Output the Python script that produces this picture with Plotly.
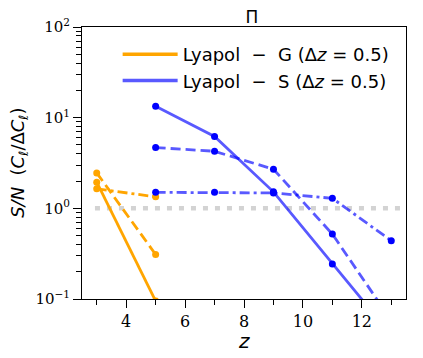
import plotly.graph_objects as go

# redshift bins
z_G = [3, 5]
z_S = [5, 7, 9, 11, 13]

# S/N for the G configuration (solid, dashed, dash-dot)
G_solid = [1.94, 0.095]
G_dash = [2.46, 0.31]
G_dashdot = [1.64, 1.34]

# S/N for the S configuration
S_solid = [13.4, 6.2, 1.52, 0.244, 0.04]
S_dash = [4.68, 4.26, 2.70, 0.52, 0.058]
S_dashdot = [1.50, 1.50, 1.48, 1.29, 0.44]

y_tickvals = [0.1, 1, 10, 100]
y_ticktext = ["10<sup>\u22121</sup>", "10<sup>0</sup>", "10<sup>1</sup>", "10<sup>2</sup>"]

ORANGE = "#ffa500"
BLUE_LINE = "rgba(0,0,255,0.65)"
BLUE_MARK = "#0000ff"
DASH = "10px,5px"
DASHDOT = "10px,4px,3px,4px"

fig = go.Figure()

# orange curves
for vals, dash in [(G_solid, "solid"), (G_dash, DASH), (G_dashdot, DASHDOT)]:
    fig.add_trace(go.Scatter(
        x=z_G, y=vals, mode="lines+markers", showlegend=False,
        line=dict(color=ORANGE, width=2.8, dash=dash),
        marker=dict(color=ORANGE, size=7)
    ))

# blue curves
for vals, dash in [(S_solid, "solid"), (S_dash, DASH), (S_dashdot, DASHDOT)]:
    fig.add_trace(go.Scatter(
        x=z_S, y=vals, mode="lines+markers", showlegend=False,
        line=dict(color=BLUE_LINE, width=2.8, dash=dash),
        marker=dict(color=BLUE_MARK, size=7)
    ))

# legend entries only (no markers in the sample)
sp = "\u00a0"
fig.add_trace(go.Scatter(x=[None], y=[None], mode="lines",
                         line=dict(color=ORANGE, width=3.5),
                         name="Lyapol" + sp * 2 + "\u2212" + sp * 2 + "G (\u0394<i>z</i> = 0.5)"))
fig.add_trace(go.Scatter(x=[None], y=[None], mode="lines",
                         line=dict(color=BLUE_LINE, width=3.5),
                         name="Lyapol" + sp * 2 + "\u2212" + sp * 2 + "S (\u0394<i>z</i> = 0.5)"))

# S/N = 1 reference line
fig.add_shape(type="line", xref="paper", x0=0.04, x1=1, yref="y", y0=1, y1=1,
              line=dict(color="#d3d3d3", width=4.5, dash="5px,7px"), layer="below")

# axis titles as annotations
fig.add_annotation(text="<i>z</i>", xref="paper", yref="paper", x=0.5, y=-0.155,
                   xanchor="center", yanchor="middle", showarrow=False,
                   font=dict(size=20, family="DejaVu Sans"))
fig.add_annotation(text="<i>S/N</i>  (<i>C<sub>\u2113</sub></i>/\u0394<i>C<sub>\u2113</sub></i>)",
                   xref="paper", yref="paper", x=-0.195, y=0.5, textangle=-90,
                   xanchor="center", yanchor="middle", showarrow=False,
                   font=dict(size=18, family="DejaVu Sans"))

# the page body adds an 8px offset, so the figure is sized to fit the window
fig.update_layout(
    width=415, height=350,
    margin=dict(l=74, r=17, t=19, b=59),
    paper_bgcolor="white", plot_bgcolor="white",
    font=dict(family="DejaVu Sans", color="black"),
    title=dict(text="\u03a0", x=0.588, xanchor="center", y=0.975, yanchor="middle",
               font=dict(size=17, family="DejaVu Sans")),
    legend=dict(x=0.11, y=0.967, xanchor="left", yanchor="top",
                bgcolor="rgba(0,0,0,0)", font=dict(size=18, family="DejaVu Sans"),
                tracegroupgap=9, itemwidth=55),
)

fig.update_xaxes(
    range=[2.5, 13.5], showgrid=False, zeroline=False, automargin=False,
    showline=True, linecolor="black", linewidth=1, mirror=True,
    ticks="outside", ticklen=8, tickwidth=1.2, tickcolor="black",
    tickvals=[4, 6, 8, 10, 12],
    tickfont=dict(family="DejaVu Serif", size=16),
    minor=dict(tickvals=[3, 5, 7, 9, 11, 13], ticks="outside", ticklen=5,
               tickwidth=1.2, tickcolor="black", showgrid=False),
)

minor_y = [m * 10 ** e for e in (-1, 0, 1) for m in range(2, 10)]
fig.update_yaxes(
    type="log", range=[-1, 2], showgrid=False, zeroline=False, automargin=False,
    showline=True, linecolor="black", linewidth=1, mirror=True,
    ticks="outside", ticklen=8, tickwidth=1.2, tickcolor="black",
    tickvals=y_tickvals, ticktext=y_ticktext,
    tickfont=dict(family="DejaVu Serif", size=15),
    minor=dict(tickvals=minor_y, ticks="outside", ticklen=5,
               tickwidth=1, tickcolor="black", showgrid=False),
)

fig.write_html("out.html")
